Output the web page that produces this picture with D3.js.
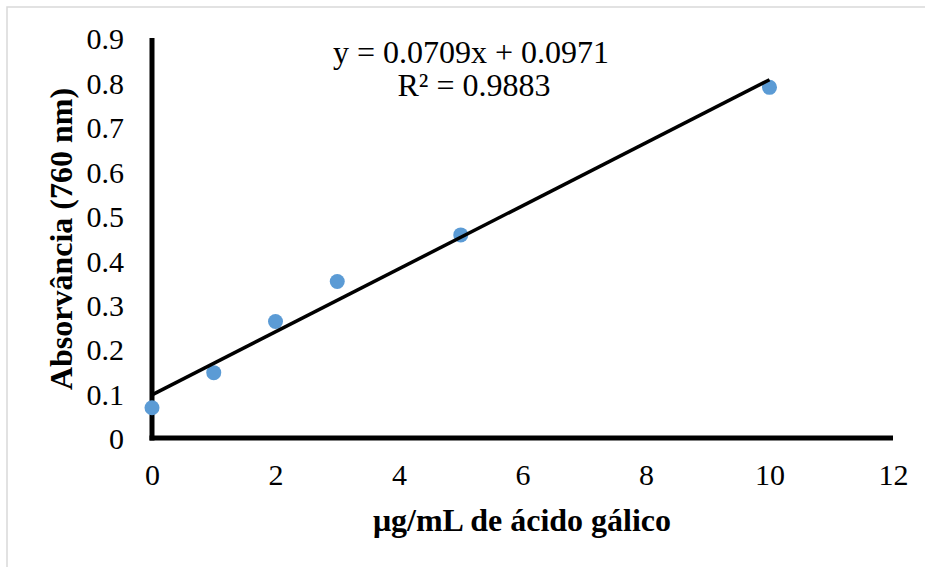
<!DOCTYPE html>
<html>
<head>
<meta charset="utf-8">
<script src="https://cdn.jsdelivr.net/npm/d3@7"></script>
<style>
  html, body { margin: 0; padding: 0; background: #fff; }
  svg { display: block; }
  svg text { font-family: "Liberation Serif", "Times New Roman", serif !important; fill: #000; }
</style>
</head>
<body>
<svg id="chart" width="925" height="567"></svg>
<script>
// Gallic acid calibration curve: concentration vs absorbance
const concentrations = [0, 1, 2, 3, 5, 10];
const absorbances = [0.068, 0.147, 0.262, 0.352, 0.457, 0.789];
const slope = 0.0709;
const intercept = 0.0971;
const rSquared = 0.9883;
const xTicks = [0, 2, 4, 6, 8, 10, 12];
const yTicks = [0, 0.1, 0.2, 0.3, 0.4, 0.5, 0.6, 0.7, 0.8, 0.9];
const xTitle = "μg/mL de ácido gálico";
const yTitle = "Absorvância (760 nm)";

const serif = '"Liberation Serif", "Times New Roman", serif';
const svg = d3.select("#chart");

// Outer chart frame
svg.append("rect")
  .attr("x", 7).attr("y", 7)
  .attr("width", 940).attr("height", 600)
  .attr("fill", "#fff")
  .attr("stroke", "#d9d9d9")
  .attr("stroke-width", 1.5);

const x = d3.scaleLinear().domain([0, 12]).range([152, 893]);
const y = d3.scaleLinear().domain([0, 0.9]).range([438, 38]);

// Tick labels via d3 axes (no tick marks, no domain path)
const xAxis = svg.append("g")
  .attr("transform", `translate(0,${y(0)})`)
  .call(d3.axisBottom(x).tickValues(xTicks).tickSize(0).tickPadding(26)
    .tickFormat(d3.format("d")));
const yAxis = svg.append("g")
  .attr("transform", `translate(${x(0)},0)`)
  .call(d3.axisLeft(y).tickValues(yTicks).tickSize(0).tickPadding(28)
    .tickFormat(d => d === 0 ? "0" : d3.format(".1f")(d)));
[xAxis, yAxis].forEach(g => {
  g.attr("font-family", serif).attr("font-size", 30);
  g.select(".domain").remove();
  g.selectAll("text")
    .style("font-family", serif)
    .style("font-size", "30px")
    .style("fill", "#000");
});
yAxis.selectAll("text").attr("dy", "0.36em");

// Axis lines
svg.append("line")
  .attr("x1", x(0)).attr("x2", x(0))
  .attr("y1", y(0.9)).attr("y2", y(0) + 2.5)
  .attr("stroke", "#000").attr("stroke-width", 5);
svg.append("line")
  .attr("x1", x(0) - 2.5).attr("x2", x(12))
  .attr("y1", y(0)).attr("y2", y(0))
  .attr("stroke", "#000").attr("stroke-width", 5);

// Data points
svg.append("g").selectAll("circle")
  .data(concentrations.map((c, i) => [c, absorbances[i]]))
  .join("circle")
  .attr("cx", d => x(d[0]))
  .attr("cy", d => y(d[1]))
  .attr("r", 7.5)
  .attr("fill", "#5b9bd5");

// Linear trendline across the data range
const xMin = d3.min(concentrations), xMax = d3.max(concentrations);
svg.append("line")
  .attr("x1", x(xMin)).attr("y1", y(slope * xMin + intercept))
  .attr("x2", x(xMax)).attr("y2", y(slope * xMax + intercept))
  .attr("stroke", "#000").attr("stroke-width", 3.5);

// Regression equation
svg.append("text")
  .attr("x", 471).attr("y", 63)
  .attr("text-anchor", "middle")
  .style("font-size", "32px")
  .text(`y = ${slope}x + ${intercept}`);
svg.append("text")
  .attr("x", 474).attr("y", 96)
  .attr("text-anchor", "middle")
  .style("font-size", "32px")
  .text(`R² = ${rSquared}`);

// Axis titles
svg.append("text")
  .attr("x", 522).attr("y", 531)
  .attr("text-anchor", "middle")
  .style("font-size", "32px")
  .style("font-weight", "bold")
  .text(xTitle);
svg.append("text")
  .attr("transform", "translate(72,239) rotate(-90)")
  .attr("text-anchor", "middle")
  .style("font-size", "32px")
  .style("font-weight", "bold")
  .text(yTitle);
</script>
</body>
</html>
